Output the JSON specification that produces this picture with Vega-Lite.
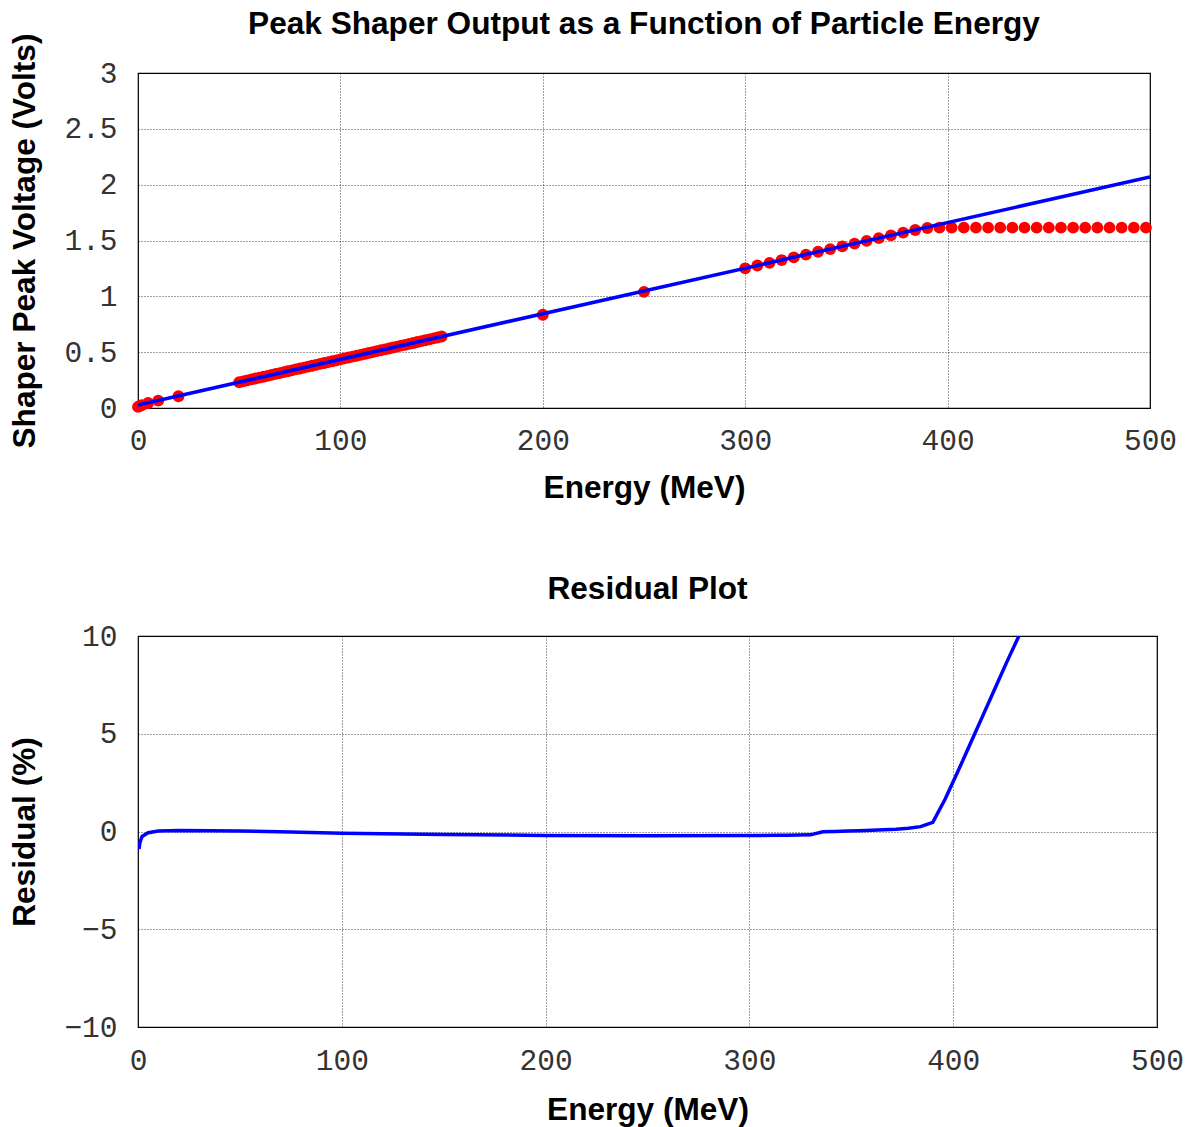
{
  "$schema": "https://vega.github.io/schema/vega-lite/v6.json",
  "background": "white",
  "padding": {"left": 9, "top": 8, "right": 10, "bottom": 5},
  "spacing": 68,
  "datasets": {
    "pts": [
      {"E": 0, "V": 0.01}, {"E": 1, "V": 0.02}, {"E": 2, "V": 0.026}, {"E": 5, "V": 0.045}, {"E": 10, "V": 0.066}, {"E": 20, "V": 0.105},
      {"E": 50, "V": 0.231}, {"E": 52, "V": 0.239}, {"E": 54, "V": 0.248}, {"E": 56, "V": 0.256}, {"E": 58, "V": 0.264},
      {"E": 60, "V": 0.272}, {"E": 62, "V": 0.28}, {"E": 64, "V": 0.288}, {"E": 66, "V": 0.297}, {"E": 68, "V": 0.305},
      {"E": 70, "V": 0.313}, {"E": 72, "V": 0.321}, {"E": 74, "V": 0.329}, {"E": 76, "V": 0.337}, {"E": 78, "V": 0.346},
      {"E": 80, "V": 0.354}, {"E": 82, "V": 0.362}, {"E": 84, "V": 0.37}, {"E": 86, "V": 0.378}, {"E": 88, "V": 0.386},
      {"E": 90, "V": 0.395}, {"E": 92, "V": 0.403}, {"E": 94, "V": 0.411}, {"E": 96, "V": 0.419}, {"E": 98, "V": 0.427},
      {"E": 100, "V": 0.435}, {"E": 102, "V": 0.444}, {"E": 104, "V": 0.452}, {"E": 106, "V": 0.46}, {"E": 108, "V": 0.468},
      {"E": 110, "V": 0.476}, {"E": 112, "V": 0.484}, {"E": 114, "V": 0.493}, {"E": 116, "V": 0.501}, {"E": 118, "V": 0.509},
      {"E": 120, "V": 0.517}, {"E": 122, "V": 0.525}, {"E": 124, "V": 0.533}, {"E": 126, "V": 0.542}, {"E": 128, "V": 0.55},
      {"E": 130, "V": 0.558}, {"E": 132, "V": 0.566}, {"E": 134, "V": 0.574}, {"E": 136, "V": 0.582}, {"E": 138, "V": 0.591},
      {"E": 140, "V": 0.599}, {"E": 142, "V": 0.607}, {"E": 144, "V": 0.615}, {"E": 146, "V": 0.623}, {"E": 148, "V": 0.631},
      {"E": 150, "V": 0.64},
      {"E": 200, "V": 0.835}, {"E": 250, "V": 1.04},
      {"E": 300, "V": 1.251}, {"E": 306, "V": 1.276}, {"E": 312, "V": 1.3}, {"E": 318, "V": 1.325}, {"E": 324, "V": 1.349},
      {"E": 330, "V": 1.374}, {"E": 336, "V": 1.399}, {"E": 342, "V": 1.423}, {"E": 348, "V": 1.448}, {"E": 354, "V": 1.472},
      {"E": 360, "V": 1.497}, {"E": 366, "V": 1.521}, {"E": 372, "V": 1.546}, {"E": 378, "V": 1.57}, {"E": 384, "V": 1.594},
      {"E": 390, "V": 1.612}, {"E": 396, "V": 1.615}, {"E": 402, "V": 1.615}, {"E": 408, "V": 1.615}, {"E": 414, "V": 1.615},
      {"E": 420, "V": 1.615}, {"E": 426, "V": 1.615}, {"E": 432, "V": 1.615}, {"E": 438, "V": 1.615}, {"E": 444, "V": 1.615},
      {"E": 450, "V": 1.615}, {"E": 456, "V": 1.615}, {"E": 462, "V": 1.615}, {"E": 468, "V": 1.615}, {"E": 474, "V": 1.615},
      {"E": 480, "V": 1.615}, {"E": 486, "V": 1.615}, {"E": 492, "V": 1.615}, {"E": 498, "V": 1.615}
    ],
    "fit": [
      {"E": 0, "V": 0.027}, {"E": 250, "V": 1.048}, {"E": 500, "V": 2.069}
    ],
    "res": [
      {"E": 0.5, "R": -0.9}, {"E": 1, "R": -0.55}, {"E": 2, "R": -0.25}, {"E": 5, "R": -0.06}, {"E": 10, "R": 0.02},
      {"E": 20, "R": 0.05}, {"E": 50, "R": 0.03}, {"E": 75, "R": -0.03}, {"E": 100, "R": -0.09}, {"E": 150, "R": -0.15},
      {"E": 200, "R": -0.2}, {"E": 250, "R": -0.22}, {"E": 300, "R": -0.2}, {"E": 306, "R": -0.2}, {"E": 312, "R": -0.19},
      {"E": 318, "R": -0.19}, {"E": 324, "R": -0.18}, {"E": 330, "R": -0.17}, {"E": 336, "R": -0.01}, {"E": 342, "R": 0.0},
      {"E": 348, "R": 0.02}, {"E": 354, "R": 0.04}, {"E": 360, "R": 0.06}, {"E": 366, "R": 0.09}, {"E": 372, "R": 0.12},
      {"E": 378, "R": 0.17}, {"E": 384, "R": 0.25}, {"E": 390, "R": 0.47}, {"E": 396, "R": 1.65}, {"E": 402, "R": 3.0},
      {"E": 408, "R": 4.4}, {"E": 414, "R": 5.8}, {"E": 420, "R": 7.2}, {"E": 426, "R": 8.6}, {"E": 432, "R": 9.95},
      {"E": 438, "R": 11.2}, {"E": 444, "R": 12.4}, {"E": 450, "R": 13.5}, {"E": 456, "R": 14.6}, {"E": 462, "R": 15.7},
      {"E": 468, "R": 16.8}, {"E": 474, "R": 17.8}, {"E": 480, "R": 18.8}, {"E": 486, "R": 19.8}, {"E": 492, "R": 20.8},
      {"E": 498, "R": 21.7}
    ]
  },
  "config": {
    "view": {"stroke": "#000", "strokeWidth": 1.2},
    "axis": {
      "domain": false,
      "ticks": false,
      "grid": true,
      "gridColor": "#000",
      "gridDash": [1, 2],
      "gridWidth": 1,
      "gridOpacity": 0.75,
      "labelFont": "Liberation Mono",
      "labelFontSize": 29.5,
      "labelColor": "#333",
      "labelFontWeight": "normal",
      "labelFlush": false,
      "titleFont": "Liberation Sans",
      "titleFontSize": 31.6,
      "titleFontWeight": "bold",
      "titleColor": "#000"
    },
    "title": {
      "font": "Liberation Sans",
      "fontSize": 31.6,
      "fontWeight": "bold",
      "color": "#000",
      "anchor": "middle",
      "frame": "group"
    }
  },
  "vconcat": [
    {
      "title": {"text": "Peak Shaper Output as a Function of Particle Energy", "offset": -8},
      "width": 1012,
      "height": 335,
      "layer": [
        {
          "data": {"name": "pts"},
          "mark": {"type": "point", "filled": true, "shape": "circle", "size": 140, "color": "#ff0000", "opacity": 1},
          "encoding": {
            "x": {"field": "E", "type": "quantitative", "scale": {"domain": [0, 500], "nice": false},
                  "axis": {"values": [0, 100, 200, 300, 400, 500], "title": "Energy (MeV)", "labelPadding": 18, "titlePadding": 18}},
            "y": {"field": "V", "type": "quantitative", "scale": {"domain": [0, 3], "nice": false},
                  "axis": {"values": [0, 0.5, 1, 1.5, 2, 2.5, 3], "labelExpr": "format(datum.value, '~g')", "title": "Shaper Peak Voltage (Volts)", "labelPadding": 21, "titlePadding": 22}}
          }
        },
        {
          "data": {"name": "fit"},
          "mark": {"type": "line", "color": "#0000ff", "strokeWidth": 3.5, "clip": true},
          "encoding": {
            "x": {"field": "E", "type": "quantitative"},
            "y": {"field": "V", "type": "quantitative"}
          }
        }
      ]
    },
    {
      "title": {"text": "Residual Plot", "offset": 15},
      "width": 1019,
      "height": 391,
      "data": {"name": "res"},
      "mark": {"type": "line", "color": "#0000ff", "strokeWidth": 3.5, "clip": true},
      "encoding": {
        "x": {"field": "E", "type": "quantitative", "scale": {"domain": [0, 500], "nice": false},
              "axis": {"values": [0, 100, 200, 300, 400, 500], "title": "Energy (MeV)", "labelPadding": 19, "titlePadding": 20}},
        "y": {"field": "R", "type": "quantitative", "scale": {"domain": [-10, 10], "nice": false},
              "axis": {"values": [-10, -5, 0, 5, 10], "title": "Residual (%)", "labelPadding": 21, "titlePadding": 22}}
      }
    }
  ]
}
